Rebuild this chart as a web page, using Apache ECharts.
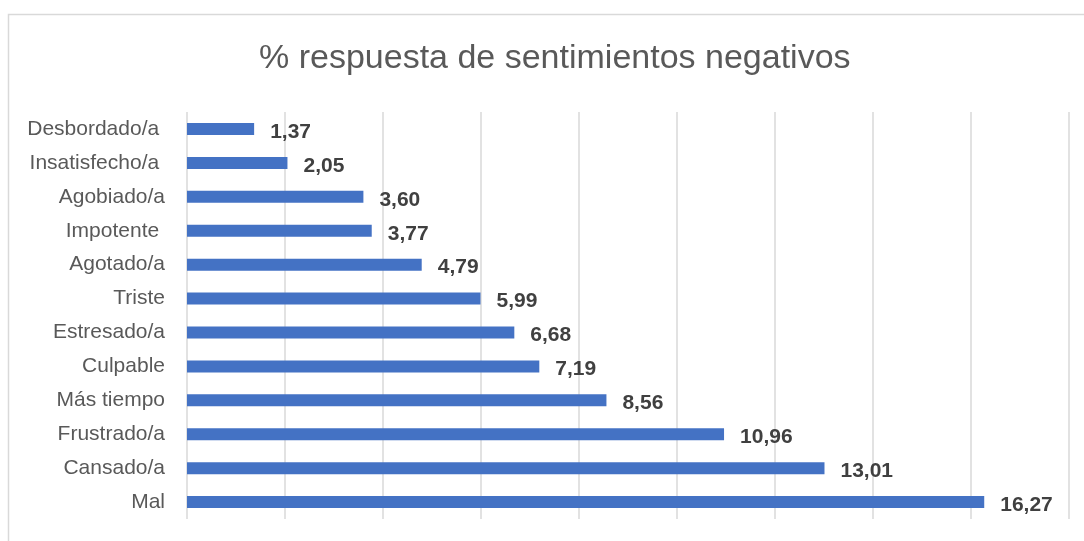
<!DOCTYPE html>
<html>
<head>
<meta charset="utf-8">
<script src="https://cdn.jsdelivr.net/npm/echarts@6/dist/echarts.min.js"></script>
<style>
  html, body { margin: 0; padding: 0; background: #fff; }
  #chart { width: 1084px; height: 541px; }
</style>
</head>
<body>
<div id="chart"></div>
<script>
// categories listed top to bottom
const categories = [
  "Desbordado/a ", "Insatisfecho/a ", "Agobiado/a", "Impotente ", "Agotado/a",
  "Triste", "Estresado/a", "Culpable", "Más tiempo", "Frustrado/a",
  "Cansado/a", "Mal"
];
const values = [1.37, 2.05, 3.60, 3.77, 4.79, 5.99, 6.68, 7.19, 8.56, 10.96, 13.01, 16.27];

const chart = echarts.init(document.getElementById("chart"));

const option = {
  animation: false,
  textStyle: { fontFamily: "Liberation Sans, Arial, sans-serif" },
  graphic: [
    {
      type: "rect",
      shape: { x: 8.5, y: 14.5, width: 1100, height: 560 },
      style: { fill: "none", stroke: "#d9d9d9", lineWidth: 1.5 },
      silent: true,
      z: -10
    }
  ],
  title: {
    text: "% respuesta de sentimientos negativos",
    left: 254,
    top: 37,
    textStyle: {
      fontFamily: "Liberation Sans, Arial, sans-serif",
      fontSize: 34,
      fontWeight: "normal",
      color: "#595959"
    }
  },
  grid: { left: 187, right: 15, top: 112, bottom: 22 },
  xAxis: {
    type: "value",
    min: 0,
    max: 18,
    interval: 2,
    axisLabel: { show: false },
    axisLine: { show: false },
    axisTick: { show: false },
    splitLine: { show: true, lineStyle: { color: "#d9d9d9", width: 1.5 } }
  },
  yAxis: {
    type: "category",
    data: categories,
    inverse: true,
    axisLine: { show: false },
    axisTick: { show: false },
    axisLabel: {
      margin: 22,
      fontSize: 21,
      color: "#595959",
      fontFamily: "Liberation Sans, Arial, sans-serif"
    }
  },
  series: [
    {
      type: "bar",
      data: values,
      barWidth: 12,
      itemStyle: { color: "#4472c4" },
      label: {
        show: true,
        position: "right",
        distance: 16,
        offset: [0, 3],
        fontSize: 21,
        fontWeight: "bold",
        color: "#404040",
        fontFamily: "Liberation Sans, Arial, sans-serif",
        formatter: (p) => p.value.toFixed(2).replace(".", ",")
      }
    }
  ]
};

chart.setOption(option);
</script>
</body>
</html>
